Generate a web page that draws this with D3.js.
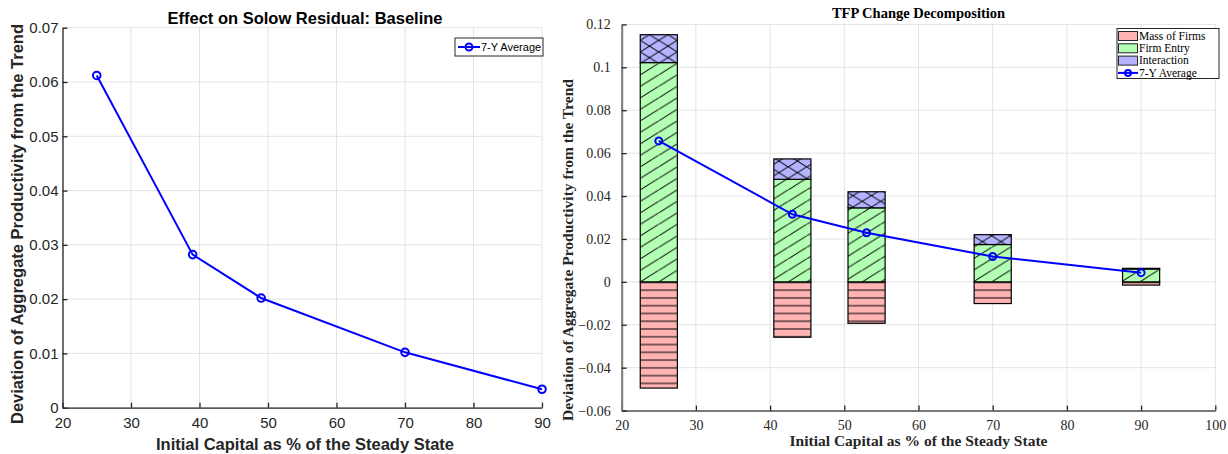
<!DOCTYPE html>
<html>
<head>
<meta charset="utf-8">
<script src="https://cdn.jsdelivr.net/npm/d3@7"></script>
<style>
  html, body { margin: 0; padding: 0; background: #fff; }
  svg { display: block; }
</style>
</head>
<body>
<svg id="chart" width="1228" height="454"></svg>
<script>
'use strict';

// ---- data ----
// left panel: effect on Solow residual
const capitalLeft = [25, 39, 49, 70, 90];
const solowAvg = [0.0612, 0.0282, 0.0202, 0.0102, 0.0034];
const xTicksLeft = [20, 30, 40, 50, 60, 70, 80, 90];
const yTicksLeft = [0, 0.01, 0.02, 0.03, 0.04, 0.05, 0.06, 0.07];

// right panel: TFP change decomposition
const capitalRight = [25, 43, 53, 70, 90];
const massOfFirms = [-0.0495, -0.0258, -0.0193, -0.0101, -0.0015];
const firmEntry = [0.1022, 0.0478, 0.0345, 0.0174, 0.0060];
const interaction = [0.0130, 0.0095, 0.0075, 0.0046, 0.0003];
const tfpAvg = [0.0657, 0.0315, 0.0229, 0.0118, 0.0043];
const xTicksRight = [20, 30, 40, 50, 60, 70, 80, 90, 100];
const yTicksRight = [-0.06, -0.04, -0.02, 0, 0.02, 0.04, 0.06, 0.08, 0.1, 0.12];
const seriesNames = ['Mass of Firms', 'Firm Entry', 'Interaction', '7-Y Average'];

const svg = d3.select('#chart');
const blue = '#0000ff';
const gridColor = '#e3e3e3';

// ================= left panel =================
const xL = d3.scaleLinear().domain([20, 90]).range([62.5, 542]);
const yL = d3.scaleLinear().domain([0, 0.07]).range([407.7, 27.7]);
const left = svg.append('g').attr('class', 'left');
const sans = '"Liberation Sans", Arial, Helvetica, sans-serif';

// grid
left.append('g').selectAll('line.gx').data(xTicksLeft).enter().append('line')
    .attr('x1', (d) => xL(d)).attr('x2', (d) => xL(d))
    .attr('y1', yL(0)).attr('y2', yL(0.07))
    .attr('stroke', gridColor).attr('stroke-width', 1);
left.append('g').selectAll('line.gy').data(yTicksLeft).enter().append('line')
    .attr('x1', xL(20)).attr('x2', xL(90))
    .attr('y1', (d) => yL(d)).attr('y2', (d) => yL(d))
    .attr('stroke', gridColor).attr('stroke-width', 1);

// axes
const axLx = left.append('g').attr('transform', 'translate(0,' + yL(0) + ')')
    .call(d3.axisBottom(xL).tickValues(xTicksLeft).tickSizeInner(-5).tickSizeOuter(0).tickPadding(10));
const axLy = left.append('g').attr('transform', 'translate(' + xL(20) + ',0)')
    .call(d3.axisLeft(yL).tickValues(yTicksLeft).tickFormat((d) => d === 0 ? '0' : d3.format('.2f')(d))
        .tickSizeInner(-5).tickSizeOuter(0).tickPadding(4));
[axLx, axLy].forEach((a) => {
    a.select('.domain').attr('stroke', '#262626').attr('stroke-width', 1.3);
    a.selectAll('.tick line').attr('stroke', '#262626').attr('stroke-width', 1.3);
    a.selectAll('.tick text').attr('fill', '#262626').style('font-family', sans).style('font-size', '15px');
});

// line + markers
left.append('path')
    .datum(capitalLeft.map((c, i) => [c, solowAvg[i]]))
    .attr('fill', 'none').attr('stroke', blue).attr('stroke-width', 2)
    .attr('d', d3.line().x((d) => xL(d[0])).y((d) => yL(d[1])));
left.append('g').selectAll('circle').data(capitalLeft).enter().append('circle')
    .attr('cx', (d) => xL(d)).attr('cy', (d, i) => yL(solowAvg[i])).attr('r', 3.8)
    .attr('fill', 'none').attr('stroke', blue).attr('stroke-width', 2);

// titles
left.append('text').attr('x', 305).attr('y', 23.5).attr('text-anchor', 'middle')
    .style('font-family', sans).style('font-weight', 'bold').style('font-size', '16.5px')
    .attr('fill', '#000').text('Effect on Solow Residual: Baseline');
left.append('text').attr('x', 305).attr('y', 449.5).attr('text-anchor', 'middle')
    .style('font-family', sans).style('font-weight', 'bold').style('font-size', '16.5px')
    .attr('fill', '#262626').text('Initial Capital as % of the Steady State');
left.append('text').attr('transform', 'translate(22.5,224) rotate(-90)')
    .attr('text-anchor', 'middle')
    .style('font-family', sans).style('font-weight', 'bold').style('font-size', '16.5px')
    .attr('fill', '#262626').text('Deviation of Aggregate Productivity from the Trend');

// legend
const lgL = left.append('g').attr('transform', 'translate(455,38)');
lgL.append('rect').attr('width', 88).attr('height', 18).attr('fill', '#fff')
    .attr('stroke', '#262626').attr('stroke-width', 1);
lgL.append('line').attr('x1', 3).attr('x2', 25).attr('y1', 9).attr('y2', 9)
    .attr('stroke', blue).attr('stroke-width', 2);
lgL.append('circle').attr('cx', 14).attr('cy', 9).attr('r', 3.5)
    .attr('fill', 'none').attr('stroke', blue).attr('stroke-width', 2);
lgL.append('text').attr('x', 26).attr('y', 13)
    .style('font-family', sans).style('font-size', '11px').attr('fill', '#000').text(seriesNames[3]);

// ================= right panel =================
const xR = d3.scaleLinear().domain([20, 100]).range([621.7, 1215.3]);
const yR = d3.scaleLinear().domain([-0.06, 0.12]).range([410.6, 24.4]);
const right = svg.append('g').attr('class', 'right');
const serif = '"Liberation Serif", "Times New Roman", Times, serif';
const barWidth = 5; // in x units

// hatch patterns
const defs = svg.append('defs');
const hH = 7.77;
const pMass = defs.append('pattern').attr('id', 'pMass').attr('patternUnits', 'userSpaceOnUse')
    .attr('x', 0).attr('y', yR(0) + 8.3 - hH / 2).attr('width', 20).attr('height', hH);
pMass.append('rect').attr('width', 20).attr('height', hH).attr('fill', '#ffb3b3');
pMass.append('line').attr('x1', 0).attr('x2', 20).attr('y1', hH / 2).attr('y2', hH / 2)
    .attr('stroke', '#000').attr('stroke-width', 1);

const dW = 18.5, dH = 11.5;
const pEntry = defs.append('pattern').attr('id', 'pEntry').attr('patternUnits', 'userSpaceOnUse')
    .attr('x', xR(20)).attr('y', yR(0)).attr('width', dW).attr('height', dH);
pEntry.append('rect').attr('width', dW).attr('height', dH).attr('fill', '#b3ffb3');
pEntry.append('line').attr('x1', -1).attr('y1', dH + dH / dW).attr('x2', dW + 1).attr('y2', -dH / dW)
    .attr('stroke', '#000').attr('stroke-width', 1);

const pInter = defs.append('pattern').attr('id', 'pInter').attr('patternUnits', 'userSpaceOnUse')
    .attr('x', xR(20)).attr('y', yR(0)).attr('width', dW).attr('height', dH);
pInter.append('rect').attr('width', dW).attr('height', dH).attr('fill', '#b3b3ff');
pInter.append('line').attr('x1', -1).attr('y1', dH + dH / dW).attr('x2', dW + 1).attr('y2', -dH / dW)
    .attr('stroke', '#000').attr('stroke-width', 1);
pInter.append('line').attr('x1', -1).attr('y1', -dH / dW).attr('x2', dW + 1).attr('y2', dH + dH / dW)
    .attr('stroke', '#000').attr('stroke-width', 1);

// grid
right.append('g').selectAll('line').data(xTicksRight).enter().append('line')
    .attr('x1', (d) => xR(d)).attr('x2', (d) => xR(d))
    .attr('y1', yR(-0.06)).attr('y2', yR(0.12))
    .attr('stroke', gridColor).attr('stroke-width', 1);
right.append('g').selectAll('line').data(yTicksRight).enter().append('line')
    .attr('x1', xR(20)).attr('x2', xR(100))
    .attr('y1', (d) => yR(d)).attr('y2', (d) => yR(d))
    .attr('stroke', gridColor).attr('stroke-width', 1);

// stacked bars
const rows = capitalRight.map((c, i) => ({ cap: c, mass: massOfFirms[i], entry: firmEntry[i], inter: interaction[i] }));
const keys = ['mass', 'entry', 'inter'];
const fills = { mass: 'url(#pMass)', entry: 'url(#pEntry)', inter: 'url(#pInter)' };
const stacked = d3.stack().keys(keys).offset(d3.stackOffsetDiverging)(rows);

right.append('g').selectAll('g').data(stacked).enter().append('g')
    .attr('fill', (s) => fills[s.key])
    .selectAll('rect').data((s) => s).enter().append('rect')
    .attr('x', (d) => xR(d.data.cap - barWidth / 2))
    .attr('width', xR(20 + barWidth) - xR(20))
    .attr('y', (d) => yR(Math.max(d[0], d[1])))
    .attr('height', (d) => Math.abs(yR(d[0]) - yR(d[1])))
    .attr('stroke', '#000').attr('stroke-width', 1.2);

// axes
const axRx = right.append('g').attr('transform', 'translate(0,' + yR(-0.06) + ')')
    .call(d3.axisBottom(xR).tickValues(xTicksRight).tickSizeInner(-5).tickSizeOuter(0).tickPadding(9));
const axRy = right.append('g').attr('transform', 'translate(' + xR(20) + ',0)')
    .call(d3.axisLeft(yR).tickValues(yTicksRight).tickFormat((d) => d3.format('~g')(+d.toFixed(2)))
        .tickSizeInner(-5).tickSizeOuter(0).tickPadding(11));
[axRx, axRy].forEach((a) => {
    a.select('.domain').attr('stroke', '#7a7a7a').attr('stroke-width', 2);
    a.selectAll('.tick line').attr('stroke', '#262626').attr('stroke-width', 1.3);
    a.selectAll('.tick text').attr('fill', '#262626').style('font-family', serif).style('font-size', '14px');
});

// average line
right.append('path')
    .datum(capitalRight.map((c, i) => [c, tfpAvg[i]]))
    .attr('fill', 'none').attr('stroke', blue).attr('stroke-width', 2)
    .attr('d', d3.line().x((d) => xR(d[0])).y((d) => yR(d[1])));
right.append('g').selectAll('circle').data(capitalRight).enter().append('circle')
    .attr('cx', (d) => xR(d)).attr('cy', (d, i) => yR(tfpAvg[i])).attr('r', 3.5)
    .attr('fill', 'none').attr('stroke', blue).attr('stroke-width', 2);

// titles
right.append('text').attr('x', (xR(20) + xR(100)) / 2).attr('y', 18).attr('text-anchor', 'middle')
    .style('font-family', serif).style('font-weight', 'bold').style('font-size', '14.5px')
    .attr('fill', '#000').text('TFP Change Decomposition');
right.append('text').attr('x', (xR(20) + xR(100)) / 2).attr('y', 446).attr('text-anchor', 'middle')
    .style('font-family', serif).style('font-weight', 'bold').style('font-size', '15.5px')
    .attr('fill', '#262626').text('Initial Capital as % of the Steady State');
right.append('text').attr('transform', 'translate(573,250) rotate(-90)')
    .attr('text-anchor', 'middle')
    .style('font-family', serif).style('font-weight', 'bold').style('font-size', '15.5px')
    .attr('fill', '#262626').text('Deviation of Aggregate Productivity from the Trend');

// legend
const lgR = right.append('g').attr('transform', 'translate(1117,28.5)');
lgR.append('rect').attr('width', 102).attr('height', 50).attr('fill', '#fff')
    .attr('stroke', '#262626').attr('stroke-width', 1);
const swatchFill = ['#ffb3b3', '#b3ffb3', '#b3b3ff'];
const rowY = [7.5, 19.8, 32.1, 44.4];
swatchFill.forEach((c, i) => {
    lgR.append('rect').attr('x', 1.5).attr('y', rowY[i] - 4.5).attr('width', 19).attr('height', 9)
        .attr('fill', c).attr('stroke', '#262626').attr('stroke-width', 1);
});
lgR.append('line').attr('x1', 1).attr('x2', 21).attr('y1', rowY[3]).attr('y2', rowY[3])
    .attr('stroke', blue).attr('stroke-width', 2);
lgR.append('circle').attr('cx', 11).attr('cy', rowY[3]).attr('r', 3)
    .attr('fill', 'none').attr('stroke', blue).attr('stroke-width', 2);
lgR.selectAll('text.lg').data(seriesNames).enter().append('text')
    .attr('x', 22).attr('y', (d, i) => rowY[i] + 3.8)
    .style('font-family', serif).style('font-size', '11.5px').attr('fill', '#000')
    .text((d) => d);
</script>
</body>
</html>
